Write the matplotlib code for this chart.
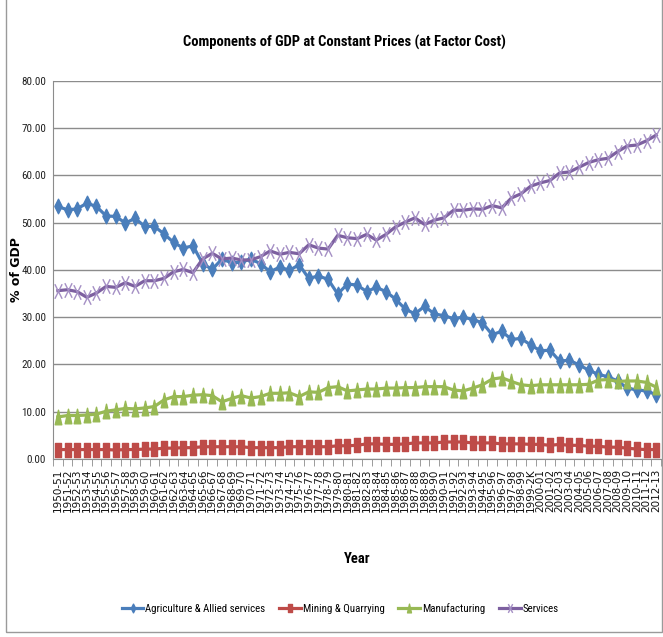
import matplotlib.pyplot as plt
from matplotlib import font_manager as fm
from matplotlib.path import Path
from matplotlib.patches import Rectangle
import numpy as np


def pick_narrow_font():
    """Return (family, stretch) for the narrowest sans font that is installed."""
    entries = fm.fontManager.ttflist
    names = {e.name for e in entries}
    for want in ("Liberation Sans Narrow", "Roboto Condensed", "Open Sans Condensed",
                 "Noto Sans Condensed", "DejaVu Sans Condensed"):
        if want in names:
            return want, "normal"
    for e in entries:
        if "condensed" in str(e.stretch) and e.name in ("Noto Sans", "Open Sans",
                                                       "Roboto", "DejaVu Sans"):
            return e.name, "condensed"
    return "Liberation Sans", "normal"


NARROW, STRETCH = pick_narrow_font()
plt.rcParams["font.family"] = [NARROW, "DejaVu Sans"]
plt.rcParams["font.stretch"] = STRETCH

# fiscal years 1950-51 ... 2012-13
years = ["1950-51", "1951-52", "1952-53", "1953-54", "1954-55", "1955-56", "1956-57",
         "1957-58", "1958-59", "1959-60", "1960-61", "1961-62", "1962-63", "1963-64",
         "1964-65", "1965-66", "1966-67", "1967-68", "1968-69", "1969-70", "1970-71",
         "1971-72", "1972-73", "1973-74", "1974-75", "1975-76", "1976-77", "1977-78",
         "1978-79", "1979-80", "1980-81", "1981-82", "1982-83", "1983-84", "1984-85",
         "1985-86", "1986-87", "1987-88", "1988-89", "1989-90", "1990-91", "1991-92",
         "1992-93", "1993-94", "1994-95", "1995-96", "1996-97", "1997-98", "1998-99",
         "1999-2K", "2000-01", "2001-02", "2002-03", "2003-04", "2004-05", "2005-06",
         "2006-07", "2007-08", "2008-09", "2009-10", "2010-11", "2011-12", "2012-13"]

agriculture = [53.4, 52.7, 52.9, 54.1, 53.4, 51.4, 51.3, 49.9, 50.9, 49.2,
               49.2, 47.6, 45.8, 44.6, 45.1, 41.3, 40.1, 42.3, 41.5, 41.6,
               42.3, 41.3, 39.6, 40.6, 39.9, 41.1, 38.2, 38.7, 38.0, 34.9,
               37.0, 36.8, 35.4, 36.3, 35.4, 33.8, 31.7, 30.7, 32.3, 30.7,
               30.3, 29.7, 30.0, 29.5, 28.8, 26.3, 27.0, 25.3, 25.5, 24.1,
               22.9, 23.0, 20.7, 20.9, 19.9, 18.8, 17.9, 17.4, 16.5, 15.0,
               14.6, 14.4, 13.6]

mining = [2.0, 2.0, 2.0, 2.0, 2.0, 2.0, 1.9, 2.0, 2.0, 2.1,
          2.1, 2.3, 2.3, 2.4, 2.4, 2.6, 2.6, 2.6, 2.6, 2.6,
          2.4, 2.4, 2.4, 2.4, 2.6, 2.6, 2.6, 2.6, 2.6, 2.8,
          2.8, 2.9, 3.2, 3.2, 3.1, 3.1, 3.2, 3.4, 3.4, 3.4,
          3.6, 3.6, 3.6, 3.4, 3.4, 3.4, 3.2, 3.2, 3.2, 3.1,
          3.1, 2.9, 3.1, 2.9, 2.9, 2.7, 2.7, 2.5, 2.5, 2.3,
          2.1, 2.0, 2.0]

manufacturing = [8.9, 9.2, 9.2, 9.3, 9.5, 10.1, 10.4, 10.7, 10.6, 10.8,
                 11.1, 12.5, 13.2, 13.2, 13.5, 13.6, 13.4, 12.1, 12.8, 13.4,
                 12.9, 13.2, 13.9, 13.9, 14.0, 13.2, 14.2, 14.1, 15.1, 15.3,
                 14.4, 14.6, 14.8, 14.8, 15.0, 15.0, 15.1, 15.1, 15.3, 15.3,
                 15.3, 14.6, 14.4, 15.0, 15.7, 16.9, 17.2, 16.4, 15.7, 15.5,
                 15.7, 15.7, 15.7, 15.7, 15.7, 15.8, 16.7, 16.8, 16.4, 16.5,
                 16.5, 16.2, 15.2]

services = [35.6, 35.8, 35.4, 34.2, 35.1, 36.5, 36.3, 37.3, 36.5, 37.7,
            37.7, 38.2, 39.6, 40.1, 39.4, 42.3, 43.5, 42.3, 42.5, 42.1,
            42.1, 42.8, 44.0, 43.3, 43.7, 43.4, 45.3, 44.6, 44.4, 47.3,
            46.8, 46.6, 47.5, 46.3, 47.5, 49.1, 50.1, 51.0, 49.6, 50.5,
            51.0, 52.6, 52.6, 52.9, 52.8, 53.6, 53.1, 55.2, 56.1, 57.7,
            58.4, 58.9, 60.5, 60.7, 61.7, 62.7, 63.3, 63.6, 65.0, 66.2,
            66.4, 67.3, 68.5]

# tall, narrow marker shapes
diamond = Path([(0, 1), (0.5, 0), (0, -1), (-0.5, 0), (0, 1)], closed=True)
block = Path([(-0.45, -1), (0.45, -1), (0.45, 1), (-0.45, 1), (-0.45, -1)], closed=True)
tri = Path([(0, 1), (0.45, -1), (-0.45, -1), (0, 1)], closed=True)
cross = Path([(-0.5, -1), (0.5, 1), (-0.5, 1), (0.5, -1)],
             [Path.MOVETO, Path.LINETO, Path.MOVETO, Path.LINETO])

fig = plt.figure(figsize=(6.63, 6.37), dpi=100)
ax = fig.add_axes([0.080, 0.2794, 0.917, 0.5939])

x = np.arange(len(years))
ax.plot(x, agriculture, color="#4A7EBB", lw=2.3, marker=diamond, ms=10.5,
        mec="#4A7EBB", label="Agriculture & Allied services", zorder=3)
ax.plot(x, mining, color="#BE4B48", lw=2.3, marker=block, ms=10.5,
        mec="#BE4B48", label="Mining & Quarrying", zorder=3)
ax.plot(x, manufacturing, color="#98B954", lw=2.3, marker=tri, ms=10.5,
        mec="#98B954", label="Manufacturing", zorder=3)
ax.plot(x, services, color="#7D60A0", lw=2.3, marker=cross, ms=10.5,
        mec="#A48FC4", mew=1.0, label="Services", zorder=3)

ax.set_xlim(-0.5, len(years) - 0.5)
ax.set_ylim(0, 80)
ax.set_yticks(np.arange(0, 81, 10))
ax.set_yticklabels([f"{v:.2f}" for v in range(0, 81, 10)], fontsize=8, color="#222222")
ax.yaxis.grid(True, color="#8c8c8c", lw=1)
ax.set_axisbelow(True)
ax.tick_params(axis="y", length=0, pad=5)

ax.set_xticks(x)
ax.set_xticklabels(years, rotation=90, fontsize=7.5, family="DejaVu Sans",
                   stretch="normal", va="top", color="#111111")
ax.set_xticks(np.arange(-0.5, len(years)), minor=True)
ax.tick_params(axis="x", which="major", length=0, pad=7)
ax.tick_params(axis="x", which="minor", length=5, color="#8c8c8c")

for side in ("top", "right"):
    ax.spines[side].set_visible(False)
ax.spines["left"].set_color("#8c8c8c")
ax.spines["bottom"].set_color("#8c8c8c")

ax.set_ylabel("% of GDP", fontsize=9, fontweight="bold", family="DejaVu Sans",
              stretch="normal")
ax.yaxis.set_label_coords(-0.05, 0.5)
ax.set_xlabel("Year", fontsize=10.5, fontweight="bold")
ax.xaxis.set_label_coords(0.5, -0.245)

fig.text(0.52, 0.934, "Components of GDP at Constant Prices (at Factor Cost)",
         ha="center", va="center", fontsize=10.5, fontweight="bold")

fig.legend(loc="center", bbox_to_anchor=(0.513, 0.045), ncol=4, frameon=False,
           fontsize=7.8, handlelength=2.0, handletextpad=0.15, columnspacing=1.3,
           markerscale=0.6)

fig.patches.append(Rectangle((0.009, 0.008), 0.989, 1.2, transform=fig.transFigure,
                             fill=False, edgecolor="#9a9a9a", lw=1))

fig.savefig("out.png", dpi=100)
